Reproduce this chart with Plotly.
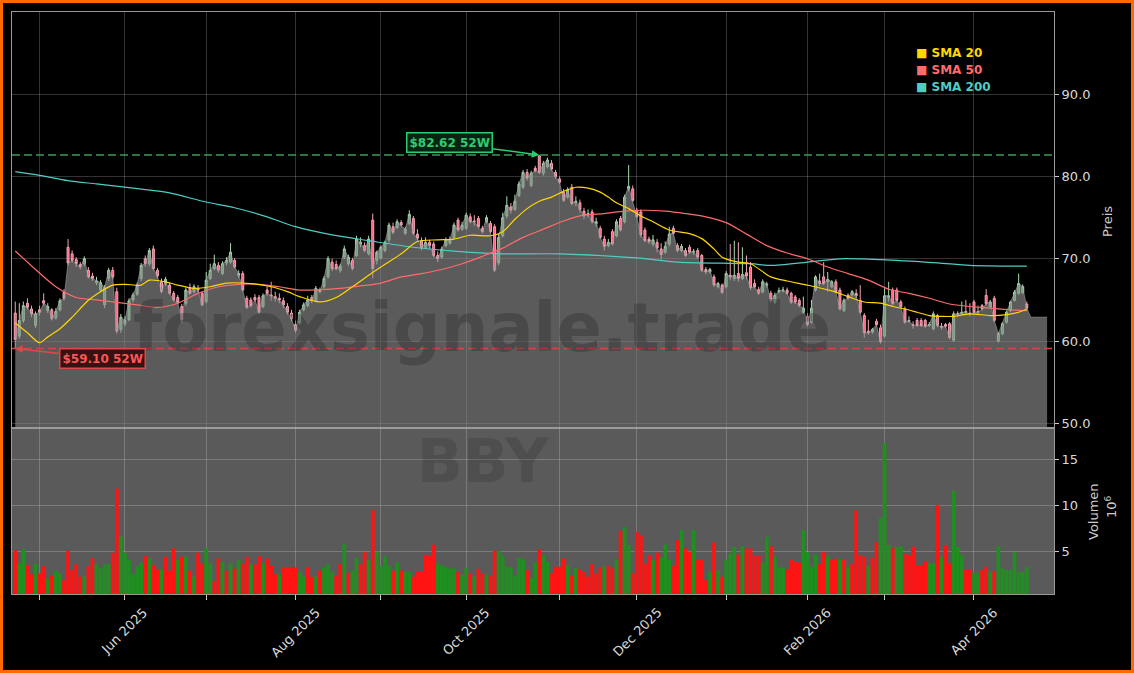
import pandas as pd
import plotly.graph_objects as go
from plotly.subplots import make_subplots

# ---------------- data ----------------
holidays = ["2025-05-26", "2025-06-19", "2025-07-04", "2025-09-01", "2025-11-27",
            "2025-12-25", "2026-01-01", "2026-01-19", "2026-02-16", "2026-04-03"]
dates = [d for d in pd.bdate_range("2025-04-23", "2026-04-21") if d.strftime("%Y-%m-%d") not in holidays]

opens = [63.4, 60.6, 62.5, 64.6, 63.9, 61.9, 63.8, 64.9, 63.7, 63.8,
         62.8, 63.8, 65.9, 71.4, 70.6, 69.9, 69.3, 69.4, 68.6, 67.9,
         67.1, 66.2, 64.4, 67.6, 68.6, 66.0, 61.4, 62.1, 62.6, 65.0,
         65.7, 67.6, 70.0, 69.4, 71.2, 68.6, 67.2, 67.0, 66.8, 65.8,
         65.3, 64.2, 64.6, 66.5, 66.0, 66.4, 65.8, 64.8, 67.6, 68.8,
         69.2, 68.2, 69.5, 69.6, 69.8, 68.0, 68.2, 65.2, 65.0, 65.3,
         65.3, 64.2, 66.2, 65.6, 65.4, 65.2, 64.9, 64.2, 63.4, 62.0,
         62.2, 63.8, 64.3, 65.3, 64.9, 66.2, 66.6, 67.8, 69.6, 69.3,
         68.6, 70.2, 69.4, 69.8, 70.4, 71.8, 71.6, 70.6, 74.7, 69.8,
         70.1, 71.0, 72.3, 73.9, 73.8, 74.4, 73.1, 74.3, 74.9, 73.0,
         72.2, 71.4, 72.0, 71.8, 70.4, 70.2, 71.6, 71.9, 72.6, 74.7,
         73.6, 73.7, 75.1, 74.6, 74.9, 73.7, 74.5, 74.3, 73.9, 69.5,
         72.8, 75.2, 76.3, 76.0, 77.7, 78.7, 80.5, 78.9, 81.0, 82.5,
         80.4, 81.2, 81.6, 80.5, 79.7, 78.1, 77.5, 78.7, 76.8, 76.8,
         75.8, 75.3, 75.7, 74.3, 73.7, 72.4, 71.6, 73.3, 72.8, 74.9,
         74.5, 78.5, 78.5, 75.9, 75.7, 73.5, 72.4, 71.8, 72.0, 71.2,
         70.8, 71.8, 73.7, 71.6, 71.0, 71.0, 71.4, 70.8, 71.0, 70.4,
         68.7, 68.4, 67.8, 66.6, 66.8, 66.6, 68.0, 67.6, 68.2, 67.6,
         68.3, 69.0, 67.0, 66.25, 65.96, 66.8, 65.8, 64.75, 66.0, 66.1,
         66.2, 65.8, 65.36, 64.95, 63.5, 63.0, 62.3, 66.2, 67.3, 67.8,
         67.2, 66.6, 67.2, 66.2, 63.7, 65.56, 65.6, 65.8, 64.95, 63.1,
         61.2, 61.1, 62.4, 61.6, 60.6, 65.3, 66.2, 66.2, 64.75, 63.9,
         62.4, 62.0, 62.5, 62.5, 62.5, 61.9, 61.5, 63.1, 61.8, 62.0,
         62.1, 60.1, 63.2, 63.3, 63.6, 63.4, 64.75, 63.6, 64.3, 65.56,
         64.15, 65.2, 60.0, 60.9, 62.3, 63.7, 64.95, 65.8, 65.9, 64.5]

highs = [64.8, 64.6, 64.8, 65.2, 64.3, 63.6, 64.3, 65.8, 64.6, 64.0,
         64.0, 65.2, 66.3, 72.4, 71.0, 70.2, 69.6, 70.3, 69.0, 68.3,
         67.8, 67.4, 66.8, 68.9, 69.0, 66.5, 63.3, 63.0, 65.2, 65.9,
         67.1, 69.5, 70.4, 71.3, 71.6, 68.9, 67.6, 67.8, 67.1, 66.1,
         65.6, 64.5, 66.5, 67.0, 66.9, 66.8, 66.0, 68.4, 69.4, 70.5,
         69.6, 69.7, 70.2, 71.9, 70.1, 68.6, 68.5, 65.5, 65.3, 65.7,
         65.6, 65.8, 66.6, 67.2, 66.0, 65.8, 65.3, 64.6, 63.8, 62.5,
         63.8, 64.7, 65.5, 65.6, 66.7, 66.5, 67.9, 70.3, 70.0, 69.8,
         69.4, 71.6, 70.5, 70.1, 72.8, 72.6, 72.0, 72.8, 75.5, 71.0,
         71.6, 72.2, 74.4, 74.4, 74.8, 74.7, 73.9, 75.9, 75.2, 73.6,
         72.6, 72.6, 72.3, 72.1, 70.9, 71.5, 72.6, 72.7, 74.4, 75.0,
         74.5, 75.6, 75.5, 75.3, 75.2, 74.0, 75.3, 74.6, 74.2, 73.0,
         75.6, 77.6, 76.8, 77.8, 79.4, 80.8, 80.9, 80.7, 81.3, 82.62,
         81.9, 82.3, 82.0, 80.8, 80.0, 78.5, 78.7, 79.1, 77.6, 77.2,
         76.2, 76.0, 76.0, 75.0, 74.0, 72.8, 72.4, 73.6, 74.8, 75.2,
         77.8, 81.4, 78.9, 76.2, 76.0, 73.8, 72.7, 72.9, 72.4, 71.9,
         72.1, 73.9, 74.0, 71.9, 71.8, 71.3, 71.7, 71.2, 71.3, 70.6,
         69.0, 68.9, 68.1, 67.2, 67.0, 68.5, 71.8, 72.2, 72.0, 71.4,
         70.4, 69.6, 67.5, 66.6, 67.5, 67.2, 66.1, 65.9, 66.5, 66.6,
         66.5, 66.0, 65.6, 65.2, 65.4, 63.4, 65.0, 68.0, 68.2, 69.6,
         68.4, 67.4, 67.5, 66.5, 65.2, 65.8, 66.2, 66.3, 66.8, 63.4,
         62.6, 61.6, 62.7, 62.0, 66.4, 67.2, 66.5, 66.5, 65.0, 64.2,
         63.0, 62.4, 62.8, 62.8, 62.7, 62.3, 63.6, 63.3, 62.2, 62.2,
         62.3, 63.6, 63.6, 64.8, 65.0, 64.6, 65.0, 64.3, 64.5, 66.3,
         65.0, 65.5, 61.1, 62.3, 63.7, 64.9, 66.2, 68.2, 66.9, 64.8]

lows = [59.1, 60.3, 62.2, 63.8, 62.9, 61.6, 63.1, 64.3, 63.4, 62.5,
        62.6, 63.6, 64.9, 69.2, 69.5, 69.0, 68.7, 69.1, 67.6, 67.3,
        66.8, 66.0, 64.0, 67.3, 67.5, 60.9, 61.0, 61.8, 62.4, 64.7,
        65.5, 67.3, 69.0, 69.1, 68.6, 67.6, 65.8, 66.7, 65.6, 64.8,
        64.5, 62.2, 64.3, 65.6, 65.8, 65.9, 64.2, 64.6, 67.4, 68.6,
        68.3, 68.0, 69.2, 69.4, 68.8, 67.7, 66.0, 63.9, 64.1, 64.8,
        63.3, 64.0, 65.5, 64.9, 64.8, 64.6, 64.0, 63.2, 62.4, 61.0,
        62.0, 63.6, 64.1, 64.6, 64.7, 65.8, 66.4, 67.6, 68.5, 68.6,
        68.3, 70.0, 69.1, 68.6, 70.2, 71.4, 70.8, 70.4, 67.6, 69.3,
        69.9, 70.8, 72.0, 73.0, 73.6, 73.9, 72.9, 74.1, 72.9, 72.2,
        71.0, 71.2, 71.3, 70.2, 69.6, 70.0, 71.4, 71.7, 72.4, 73.3,
        73.4, 73.5, 74.3, 74.0, 73.7, 73.1, 74.3, 73.1, 68.4, 69.2,
        72.6, 74.9, 75.5, 75.8, 77.5, 78.5, 79.5, 78.7, 80.5, 80.3,
        80.1, 81.0, 80.7, 79.7, 79.1, 76.9, 77.3, 76.5, 76.4, 75.6,
        74.8, 75.0, 74.3, 73.9, 72.4, 71.0, 71.4, 71.6, 72.6, 73.3,
        74.3, 78.2, 76.9, 74.9, 72.6, 72.0, 71.8, 71.5, 70.8, 69.9,
        70.6, 71.5, 72.9, 70.8, 70.8, 70.2, 70.6, 70.5, 70.0, 68.4,
        68.1, 68.2, 66.6, 66.4, 65.7, 66.4, 67.4, 67.3, 67.2, 67.4,
        67.5, 66.2, 66.4, 65.6, 65.8, 66.5, 64.7, 64.5, 65.8, 65.9,
        65.6, 64.5, 64.5, 64.1, 63.3, 61.8, 62.1, 66.0, 66.7, 66.8,
        66.0, 66.4, 65.8, 63.7, 63.5, 65.0, 65.4, 65.2, 63.3, 60.4,
        60.8, 60.9, 61.8, 59.7, 60.4, 64.8, 64.3, 64.7, 64.0, 62.1,
        62.2, 61.5, 61.7, 61.7, 61.6, 61.7, 61.3, 61.7, 61.4, 61.6,
        60.2, 59.9, 62.9, 63.1, 63.2, 63.0, 63.3, 63.3, 63.7, 64.3,
        64.0, 62.3, 59.8, 60.7, 62.1, 63.5, 64.8, 65.6, 65.7, 63.7]

closes = [60.2, 62.5, 64.3, 64.1, 63.3, 63.3, 63.5, 64.6, 64.2, 62.7,
          63.6, 64.9, 65.2, 69.5, 69.8, 69.4, 69.0, 70.0, 67.8, 67.6,
          67.3, 67.1, 66.5, 68.6, 67.8, 61.2, 62.9, 62.5, 64.9, 65.6,
          66.8, 69.2, 69.4, 71.0, 68.8, 67.9, 66.0, 67.5, 65.8, 65.0,
          64.7, 62.6, 66.2, 65.8, 66.6, 66.2, 64.4, 67.4, 68.6, 69.4,
          68.6, 69.4, 69.8, 70.8, 69.0, 68.2, 66.2, 64.1, 64.3, 65.0,
          63.5, 65.5, 65.8, 65.5, 65.2, 65.0, 64.4, 63.5, 62.7, 61.3,
          63.5, 64.4, 65.0, 64.9, 66.4, 66.0, 67.6, 70.0, 68.8, 68.8,
          69.1, 71.2, 70.2, 68.8, 72.4, 72.0, 71.0, 72.4, 68.8, 70.8,
          71.4, 72.0, 74.1, 73.2, 74.5, 74.1, 73.6, 75.4, 73.1, 72.5,
          71.3, 72.0, 71.6, 70.4, 70.0, 71.2, 72.3, 72.3, 74.1, 73.5,
          74.1, 75.3, 74.5, 74.5, 73.9, 73.3, 75.0, 73.3, 68.6, 72.6,
          75.0, 76.5, 75.9, 77.0, 79.1, 80.5, 79.8, 80.4, 80.7, 80.5,
          81.6, 82.0, 80.9, 80.0, 79.3, 77.1, 78.4, 76.7, 77.0, 76.0,
          75.2, 75.5, 74.5, 74.5, 72.6, 71.5, 72.0, 71.8, 74.5, 73.5,
          77.5, 78.8, 77.1, 75.1, 72.9, 72.2, 72.1, 72.3, 71.3, 70.5,
          71.5, 73.0, 73.1, 71.0, 71.5, 70.4, 70.8, 70.9, 70.2, 68.6,
          68.4, 68.7, 66.8, 67.0, 65.9, 68.2, 67.8, 68.0, 67.6, 68.1,
          67.9, 66.5, 66.6, 65.8, 67.2, 66.9, 64.95, 65.56, 66.1, 66.2,
          65.8, 64.75, 64.75, 64.35, 64.0, 62.0, 64.0, 67.8, 67.0, 67.0,
          67.5, 67.2, 65.96, 63.9, 64.95, 65.2, 66.0, 65.5, 63.5, 61.0,
          61.0, 61.4, 62.0, 59.9, 65.5, 65.5, 64.55, 64.95, 64.15, 62.3,
          62.5, 61.9, 61.9, 61.9, 61.8, 62.0, 63.3, 61.9, 61.7, 61.8,
          60.4, 63.3, 63.3, 63.5, 63.5, 63.3, 63.5, 63.5, 63.9, 64.55,
          64.75, 62.5, 60.9, 62.1, 63.5, 64.75, 65.96, 67.0, 66.6, 64.0]

tail_close = [62.9, 62.9, 62.9, 62.9, 62.9]

volume_m = [5.1, 3.66, 5.2, 3.48, 2.5, 3.6, 2.58, 3.37, 2.03, 2.29,
            2.87, 2.58, 1.85, 5.04, 2.94, 3.59, 2.21, 2.21, 3.37, 4.24,
            3.59, 3.12, 3.59, 3.59, 4.82, 11.8, 6.56, 4.82, 4.02, 2.5,
            3.37, 3.73, 4.46, 4.2, 3.48, 3.01, 3.01, 4.39, 2.87, 5.29,
            4.02, 4.39, 4.39, 2.87, 2.21, 4.82, 3.66, 5.36, 3.66, 1.74,
            4.2, 3.84, 2.87, 3.66, 3.08, 4.02, 3.66, 4.39, 3.59, 3.59,
            4.46, 3.66, 4.2, 3.41, 2.5, 2.5, 3.23, 3.23, 3.23, 3.23,
            2.72, 2.21, 3.23, 2.21, 2.21, 2.87, 3.23, 3.59, 2.76, 2.29,
            3.59, 5.76, 2.65, 2.87, 4.28, 3.59, 4.89, 4.02, 9.45, 4.93,
            3.41, 4.46, 3.41, 2.87, 3.77, 2.87, 2.72, 2.72, 2.21, 2.72,
            2.72, 4.6, 4.49, 5.69, 3.66, 3.44, 3.23, 3.12, 3.12, 2.72,
            2.4, 3.19, 2.58, 2.21, 3.08, 2.58, 2.4, 2.32, 5.04, 5.04,
            4.46, 3.3, 3.23, 2.36, 4.28, 4.1, 2.94, 2.07, 3.77, 5.18,
            4.57, 3.84, 2.58, 3.3, 3.3, 4.2, 3.41, 2.29, 3.12, 3.05,
            2.72, 2.21, 3.59, 2.58, 3.19, 3.3, 3.41, 3.12, 4.13, 7.21,
            7.64, 5.65, 2.58, 7.1, 6.67, 3.66, 4.57, 4.02, 4.82, 4.31,
            5.69, 4.02, 3.41, 6.2, 7.28, 5.29, 4.93, 7.28, 4.02, 4.02,
            1.85, 2.72, 5.94, 2.87, 2.21, 4.02, 4.75, 5.47, 4.64, 5.54,
            5.29, 5.29, 4.46, 4.46, 3.73, 6.56, 5.54, 4.39, 3.23, 3.23,
            3.01, 4.02, 3.81, 3.73, 7.28, 4.86, 3.3, 4.64, 3.59, 4.89,
            4.46, 4.02, 4.17, 4.17, 4.1, 3.3, 3.59, 9.45, 4.57, 4.39,
            3.41, 4.28, 5.98, 8.62, 16.8, 5.65, 5.36, 5.47, 5.54, 4.68,
            4.57, 5.47, 3.48, 3.48, 3.84, 3.66, 3.66, 10.0, 4.39, 5.65,
            3.66, 11.55, 5.47, 4.57, 2.94, 2.94, 2.65, 2.65, 2.94, 3.3,
            2.76, 2.83, 5.54, 3.12, 2.94, 2.94, 4.86, 2.65, 2.76, 3.3]

# volume bar colour per day: u = green, d = red
volume_dir = "".join([
    "duudduddud", "uudddddudd", "uuuudduuuu", "uududduddd", "udududduud",
    "dudududdud", "dudddudddd", "uudduduuud", "duduuddudu", "uuududuudd",
    "dddduuuuud", "uududduddu", "uuuuuuduud", "uuddddudud", "ddddduddud",
    "uudddddudu", "uudduddudd", "dududuuudu", "dddduuduuu", "dddduuuudd",
    "uddududddd", "udduuuduud", "ddddduudud", "duuudduudd", "uduuuuuuuu",
])

sma20_i = [0, 3, 6, 8, 11, 14, 18, 21, 24, 27, 31, 33, 37, 40, 44, 48, 52, 58, 63, 67,
           70, 75, 79, 83, 87, 90, 95, 99, 104, 108, 112, 117, 120, 123, 126, 129, 132, 135, 138, 141,
           144, 146, 148, 151, 154, 157, 161, 166, 169, 172, 174, 178, 181, 186, 190, 195, 201, 205, 209, 213,
           216, 219, 222, 225, 228, 231, 235, 240, 244, 247, 249]
sma20_v = [62.2, 61.0, 59.8, 60.5, 61.5, 62.9, 64.95, 66.0, 66.8, 66.9, 66.8, 67.4, 67.2, 66.8, 66.4, 66.6, 67.05, 66.98, 66.6, 66.0,
           65.4, 64.75, 65.3, 66.6, 68.0, 69.0, 70.6, 72.1, 72.3, 72.4, 72.86, 72.8, 73.3, 74.8, 76.1, 77.0, 77.5, 78.2, 78.7, 78.6,
           78.1, 77.5, 76.8, 76.1, 75.2, 74.5, 73.5, 73.06, 72.45, 71.2, 70.2, 69.6, 69.4, 67.8, 67.3, 66.8, 66.1, 65.4, 64.75, 64.6,
           64.2, 63.9, 63.5, 63.1, 63.0, 63.0, 63.3, 63.1, 63.2, 63.5, 63.9]

sma50_i = [0, 5, 10, 15, 20, 25, 30, 35, 40, 45, 50, 55, 60, 65, 70, 75, 80, 85, 90, 95,
           100, 105, 110, 115, 120, 125, 130, 135, 140, 145, 150, 155, 160, 165, 170, 175, 180, 185, 190, 195,
           200, 205, 210, 215, 220, 225, 230, 235, 240, 245, 249]
sma50_v = [70.95, 68.7, 66.6, 65.3, 65.0, 64.7, 64.4, 64.1, 64.6, 65.8, 66.6, 66.9, 66.9, 66.6, 66.2, 66.25, 66.4, 66.7, 67.05, 67.8,
           68.2, 68.7, 69.4, 70.3, 71.3, 72.6, 73.6, 74.6, 75.3, 75.5, 75.8, 75.9, 75.8, 75.5, 75.1, 74.4, 73.0, 71.6, 70.7, 70.0,
           69.0, 68.2, 67.4, 66.3, 65.8, 65.2, 64.5, 64.2, 64.0, 63.8, 63.7]

sma200_i = [0, 6, 13, 20, 27, 37, 47, 54, 62, 69, 78, 87, 98, 111, 120, 134, 153, 163, 181, 186,
            195, 203, 213, 227, 235, 249]
sma200_v = [80.6, 80.15, 79.5, 79.1, 78.7, 78.1, 76.9, 76.2, 75.1, 73.9, 72.9, 72.2, 71.4, 70.8, 70.6, 70.6, 70.1, 69.6, 69.4, 69.2,
            69.6, 70.0, 69.9, 69.5, 69.2, 69.1]

high_52w = 82.62
low_52w = 59.10
ticker = "BBY"

n = len(dates)
volume_dir = volume_dir[:n].ljust(n, "u")

# ---------------- geometry helpers ----------------
W, H = 1134, 673
ML, MR, MT, MB = 12, 80, 12, 79
PW, PH = W - ML - MR, H - MT - MB


def px(x):
    return (x - ML) / PW


def py(y):
    return (H - MB - y) / PH


split = py(428)

x_idx = list(range(n))
x_area = x_idx + [n + k for k in range(len(tail_close))]
y_area = closes[:n] + tail_close

month_starts = [(i, d) for i, d in enumerate(dates) if i > 0 and d.month != dates[i - 1].month]
tick_idx = [i for i, _ in month_starts]

fig = make_subplots(rows=2, cols=1, shared_xaxes=True, vertical_spacing=0)

fig.add_trace(go.Scatter(x=x_area, y=y_area, mode="lines", fill="tozeroy",
                         line=dict(color="rgba(170,170,170,0.55)", width=1),
                         fillcolor="rgba(140,140,140,0.65)", hoverinfo="skip"), row=1, col=1)

fig.add_trace(go.Candlestick(x=x_idx, open=opens[:n], high=highs[:n], low=lows[:n], close=closes[:n],
                             increasing=dict(line=dict(color="#a8dcae", width=1), fillcolor="#4cbc5e"),
                             decreasing=dict(line=dict(color="#f2a7b6", width=1), fillcolor="#ff5a7c"),
                             whiskerwidth=0), row=1, col=1)

for xs, ys, col in [(sma200_i, sma200_v, "#4ECDC4"), (sma50_i, sma50_v, "#FF6B6B"), (sma20_i, sma20_v, "#FFD700")]:
    fig.add_trace(go.Scatter(x=xs, y=ys, mode="lines", line=dict(color=col, width=1.2, shape="spline", smoothing=0.8),
                             hoverinfo="skip"), row=1, col=1)

vol_colors = ["#1f8f1f" if c == "u" else "#ff1414" for c in volume_dir]
fig.add_trace(go.Bar(x=x_idx, y=volume_m[:n], marker=dict(color=vol_colors, line=dict(width=0)), width=0.92),
              row=2, col=1)

grid = "rgba(255,255,255,0.2)"
spine = "#9a9a9a"
xr = [-0.8, 255.7]

fig.update_layout(
    width=W, height=H, margin=dict(l=ML, r=MR, t=MT, b=MB),
    paper_bgcolor="black", plot_bgcolor="black", showlegend=False,
    font=dict(family="DejaVu Sans", color="#d9d9d9", size=13),
    xaxis=dict(range=xr, tickvals=tick_idx, showticklabels=False, showgrid=True, gridcolor=grid, gridwidth=1,
               zeroline=False, showline=True, linecolor=spine, mirror=True, ticks="", rangeslider=dict(visible=False)),
    xaxis2=dict(range=xr, tickvals=tick_idx, showticklabels=False, showgrid=True, gridcolor=grid, gridwidth=1,
                zeroline=False, showline=True, linecolor=spine, mirror=True, ticks="outside", ticklen=5,
                tickcolor="#cccccc"),
    yaxis=dict(domain=[split, 1], range=[49.43, 100], side="right", tickvals=[50, 60, 70, 80, 90],
               ticktext=["50.0", "60.0", "70.0", "80.0", "90.0"], showgrid=True, gridcolor=grid, zeroline=False,
               showline=True, linecolor=spine, mirror=True, ticks="outside", ticklen=4, tickcolor="#cccccc",
               tickfont=dict(size=13)),
    yaxis2=dict(domain=[0, split], range=[0.33, 18.4], side="right", tickvals=[5, 10, 15],
                showgrid=True, gridcolor=grid, zeroline=False, showline=True, linecolor=spine, mirror=True,
                ticks="outside", ticklen=4, tickcolor="#cccccc", tickfont=dict(size=13)),
)

shapes = [
    dict(type="rect", xref="x2 domain", yref="y2 domain", x0=0, x1=1, y0=0, y1=1,
         fillcolor="#5a5a5a", line=dict(width=0), layer="below"),
    dict(type="line", xref="x domain", yref="y", x0=0, x1=1, y0=high_52w, y1=high_52w,
         line=dict(color="#3a9a5a", width=1.5, dash="8px,4px")),
    dict(type="line", xref="x domain", yref="y", x0=0, x1=1, y0=low_52w, y1=low_52w,
         line=dict(color="#d64545", width=1.5, dash="8px,4px")),
    dict(type="rect", xref="paper", yref="paper", x0=px(1.5), x1=px(1132.5), y0=py(671.5), y1=py(1.5),
         line=dict(color="#ff6a00", width=3), fillcolor="rgba(0,0,0,0)", layer="above"),
]
fig.update_layout(shapes=shapes)

ann = []
# watermarks
ann.append(dict(x=px(482), y=py(328), xref="paper", yref="paper", text="<b>forexsignale.trade</b>", showarrow=False,
                font=dict(size=67, color="rgba(30,30,30,0.28)", family="DejaVu Sans"), xanchor="center", yanchor="middle"))
ann.append(dict(x=px(483), y=py(461), xref="paper", yref="paper", text=f"<b>{ticker}</b>", showarrow=False,
                font=dict(size=60, color="rgba(30,30,30,0.2)", family="DejaVu Sans"), xanchor="center", yanchor="middle"))
# 52W labels
hi_idx = highs.index(max(highs))
lo_idx = lows.index(min(lows))
ann.append(dict(x=hi_idx, y=high_52w, xref="x", yref="y", text=f"<b>${high_52w:.2f} 52W</b>", showarrow=True,
                ax=-90, ay=-12, arrowcolor="#2ecc71", arrowwidth=1.5, arrowhead=2, arrowsize=1,
                font=dict(size=12, color="#2ecc71"), bgcolor="rgba(8,40,20,0.9)", bordercolor="#2ecc71",
                borderwidth=1.5, borderpad=2))
ann.append(dict(x=lo_idx, y=low_52w, xref="x", yref="y", text=f"<b>${low_52w:.2f} 52W</b>", showarrow=True,
                ax=87, ay=10, arrowcolor="#e04848", arrowwidth=1.5, arrowhead=2, arrowsize=1,
                font=dict(size=12, color="#ff5555"), bgcolor="rgba(50,10,10,0.9)", bordercolor="#e04848",
                borderwidth=1.5, borderpad=2))
# legend
for label, col, yy in [("SMA 20", "#FFD700", 53), ("SMA 50", "#FF6B6B", 70), ("SMA 200", "#4ECDC4", 87)]:
    ann.append(dict(x=px(914), y=py(yy), xref="paper", yref="paper", text=f"<b>■ {label}</b>", showarrow=False,
                    font=dict(size=12, color=col), xanchor="left", yanchor="middle"))
# axis titles
ann.append(dict(x=px(1107), y=py(222), xref="paper", yref="paper", text="Preis", textangle=-90, showarrow=False,
                font=dict(size=13, color="#cccccc"), xanchor="center", yanchor="middle"))
ann.append(dict(x=px(1093), y=py(512), xref="paper", yref="paper", text="Volumen", textangle=-90, showarrow=False,
                font=dict(size=13, color="#cccccc"), xanchor="center", yanchor="middle"))
ann.append(dict(x=px(1111), y=py(507), xref="paper", yref="paper", text="10<sup>6</sup>", textangle=-90,
                showarrow=False, font=dict(size=13, color="#cccccc"), xanchor="center", yanchor="middle"))
# month labels
for i, d in month_starts:
    if d.month % 2 == 0:
        ann.append(dict(x=i, xref="x2", y=py(602), yref="paper", text=d.strftime("%b %Y"), textangle=-45,
                        showarrow=False, xanchor="center", yanchor="top", font=dict(size=13, color="#d9d9d9")))
fig.update_layout(annotations=ann)

fig.write_html("out.html", config={"displayModeBar": False},
               post_script="document.body.style.margin='0';document.body.style.background='black';")
